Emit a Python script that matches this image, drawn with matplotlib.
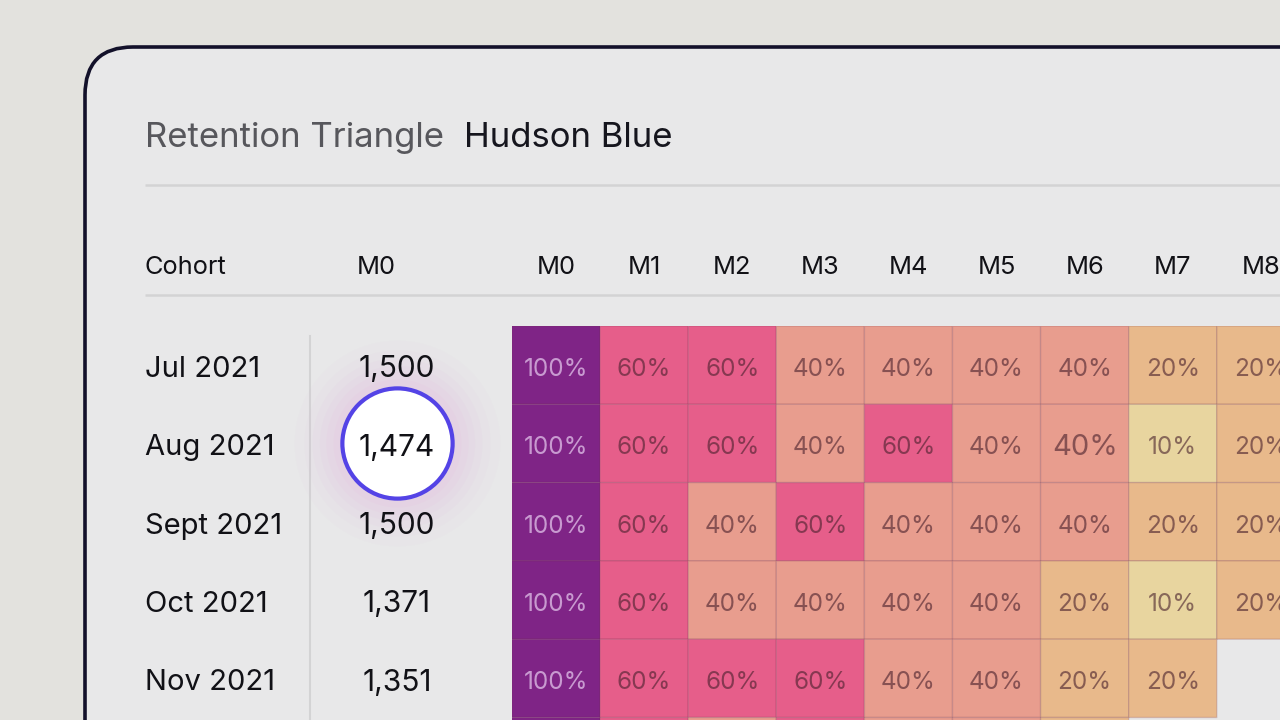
import numpy as np
import matplotlib
matplotlib.use("Agg")
import matplotlib.pyplot as plt
from matplotlib.patches import FancyBboxPatch
from matplotlib.colors import ListedColormap, BoundaryNorm
import matplotlib.transforms as mtransforms

plt.rcParams['font.family'] = ['Inter', 'DejaVu Sans']

# ---- data ----
title_left = "Retention Triangle"
title_right = "Hudson Blue"
cohorts = ["Jul 2021", "Aug 2021", "Sept 2021", "Oct 2021", "Nov 2021"]
cohort_size = ["1,500", "1,474", "1,500", "1,371", "1,351"]
months = ["M0", "M1", "M2", "M3", "M4", "M5", "M6", "M7", "M8"]
ret_jul = [100, 60, 60, 40, 40, 40, 40, 20, 20]
ret_aug = [100, 60, 60, 40, 60, 40, 40, 10, 20]
ret_sep = [100, 60, 40, 60, 40, 40, 40, 20, 20]
ret_oct = [100, 60, 40, 40, 40, 40, 20, 10, 20]
ret_nov = [100, 60, 60, 60, 40, 40, 20, 20]
ret_dec = [100, 60, 40, 60, 40, 40, 20]   # next cohort, only its top edge is visible
highlight_row = 1
hover_cell = (1, 6)

rows = [ret_jul, ret_aug, ret_sep, ret_oct, ret_nov, ret_dec]
ncol = len(months)
grid = np.full((len(rows), ncol), np.nan)
for i, r in enumerate(rows):
    grid[i, :len(r)] = r
grid = np.ma.masked_invalid(grid)

W, H = 1280, 720
fig = plt.figure(figsize=(12.8, 7.2), dpi=100)
fig.patch.set_facecolor("#e3e2de")

# background / layout axes in pixel units
bg = fig.add_axes([0, 0, 1, 1], zorder=0)
bg.set_xlim(0, W)
bg.set_ylim(H, 0)
bg.axis("off")

card = FancyBboxPatch((85, 47), 1500, 1000,
                      boxstyle="round,pad=0,rounding_size=48",
                      facecolor="#e8e8e9", edgecolor="#13112a", linewidth=2.6, zorder=1)
bg.add_patch(card)

bg.text(145, 138, title_left, fontsize=25, color="#57575c", va="center", ha="left", zorder=3)
bg.text(464, 138, title_right, fontsize=25, color="#16161e", va="center", ha="left", zorder=3)
bg.plot([145, 1300], [185, 185], color="#d3d3d4", lw=1.8, zorder=2, solid_capstyle="butt")
bg.plot([145, 1300], [295, 295], color="#d3d3d4", lw=1.8, zorder=2, solid_capstyle="butt")
bg.plot([310, 310], [336, 730], color="#d3d3d4", lw=1.5, zorder=2)
bg.text(145, 267, "Cohort", fontsize=18.3, color="#111116", va="center", ha="left", zorder=3)
bg.text(376, 267, "M0", fontsize=18.3, color="#111116", va="center", ha="center", zorder=3)

# heatmap axes: cell 88.1 x 78.3 px
cw, ch = 88.1, 78.3
left_px, top_px = 512, 326
nrow = len(rows)
hm = fig.add_axes([left_px / W, 1 - (top_px + nrow * ch) / H, ncol * cw / W, nrow * ch / H], zorder=2)
hm.patch.set_alpha(0)
hm.axis("off")

cmap = ListedColormap(["#e8d59f", "#e8b98b", "#e89d8e", "#e65e8a", "#7f2486"])
norm = BoundaryNorm([0, 15, 30, 50, 80, 101], cmap.N)
hm.pcolor(np.arange(ncol + 1), np.arange(nrow + 1), grid, cmap=cmap, norm=norm,
          edgecolors=(0.45, 0.2, 0.3, 0.2), linewidth=1.0)
hm.set_xlim(0, ncol)
hm.set_ylim(nrow, 0)

dy = 0.055
for i, r in enumerate(rows[:len(cohorts)]):
    for j, v in enumerate(r):
        if v >= 100:
            col = (0.86, 0.72, 0.89, 0.8)
        else:
            col = (0.28, 0.12, 0.17, 0.6)
        fs = 17.5
        if (i, j) == hover_cell:
            fs = 21
        hm.text(j + 0.5, i + 0.5 + dy, f"{v}%", fontsize=fs, color=col, ha="center", va="center")

# column headers (x from heatmap columns, y in pixel layout)
hx = mtransforms.blended_transform_factory(hm.transData, bg.transData)
for j, m in enumerate(months):
    bg.text(j + 0.5, 267, m, fontsize=18.3, color="#111116", ha="center", va="center",
            transform=hx, zorder=3)

# row labels (x in pixel layout, y from heatmap rows)
ry = mtransforms.blended_transform_factory(bg.transData, hm.transData)
for i, (c, n) in enumerate(zip(cohorts, cohort_size)):
    bg.text(145, i + 0.5 + dy, c, fontsize=21, color="#111116", ha="left", va="center",
            transform=ry, zorder=5)
    bg.text(397, i + 0.5 + dy, n, fontsize=21.5, color="#111116", ha="center", va="center",
            transform=ry, zorder=5)

# highlighted circle with glow
for s, a in [(22000, 0.04), (18000, 0.05), (15000, 0.07), (12500, 0.08), (10500, 0.09), (8500, 0.10)]:
    bg.scatter([397], [highlight_row + 0.5], s=s, color="#e4b2e0", alpha=a, linewidths=0,
               transform=ry, zorder=3)
bg.scatter([397], [highlight_row + 0.5], s=6300, facecolor="white", edgecolor="#5443e6",
           linewidths=3.0, transform=ry, zorder=4)

fig.savefig("out.png", dpi=100, facecolor=fig.get_facecolor())
